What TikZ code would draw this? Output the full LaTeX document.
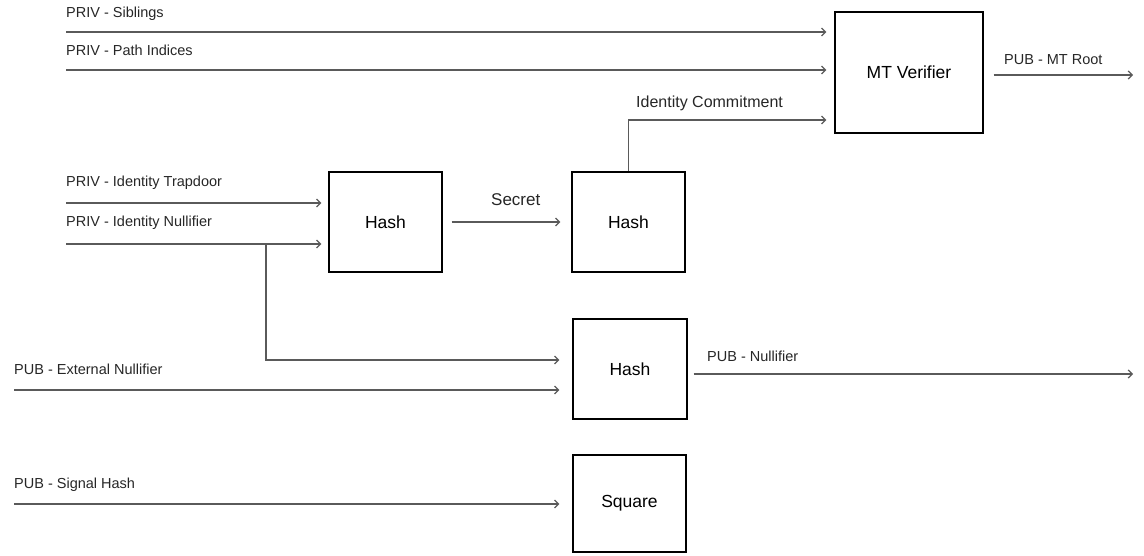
\documentclass[tikz,border=0pt]{standalone}
\usepackage{fontspec}
\setmainfont{Liberation Sans}
\usetikzlibrary{arrows.meta}
\definecolor{wire}{HTML}{5A5A5A}
\tikzset{
  block/.style={draw=black, line width=1.2pt, fill=white, inner sep=0pt,
    font=\fontsize{17.5}{20}\selectfont},
  wirelabel/.style={anchor=base west, inner sep=0pt, text=black!85,
    font=\fontsize{14.5}{17}\selectfont},
  biglabel/.style={wirelabel, font=\fontsize{16}{19}\selectfont},
  signal/.style={draw=wire, line width=1.4pt,
    -{Straight Barb[length=4pt,width=8pt,line width=1.2pt]}},
}
\begin{document}
\begin{tikzpicture}[x=1pt,y=-1pt]
\useasboundingbox (0,0) rectangle (1144,556);

% processing blocks
\node[block, minimum width=148pt, minimum height=121pt] (mt) at (909,72.5) {MT Verifier};
\node[block, minimum width=113pt, minimum height=100pt] (h1) at (385.5,222) {Hash};
\node[block, minimum width=113pt, minimum height=100pt] (h2) at (628.5,222) {Hash};
\node[block, minimum width=114pt, minimum height=100pt] (h3) at (630,369) {Hash};
\node[block, minimum width=113pt, minimum height=97pt] (sq) at (629.5,503.5) {Square};

% free ends of the input and output wires
\coordinate (sib) at (66,32);
\coordinate (path) at (66,70);
\coordinate (trap) at (66,203);
\coordinate (idn) at (66,244);
\coordinate (ext) at (14,390);
\coordinate (sig) at (14,504);
\coordinate (split) at (266,244);
\coordinate (bend) at (266,360);
\coordinate (commit) at (628.5,120);
\coordinate (root) at (1133,75);
\coordinate (nullout) at (1133,374);

% wire labels
\node[wirelabel] (lsib) at (66,17.5) {PRIV - Siblings};
\node[wirelabel] (lpath) at (66,55.5) {PRIV - Path Indices};
\node[wirelabel] (lroot) at (1004,65) {PUB - MT Root};
\node[biglabel] (lcommit) at (636,108) {Identity Commitment};
\node[wirelabel] (ltrap) at (66,186.5) {PRIV - Identity Trapdoor};
\node[wirelabel] (lidn) at (66,227) {PRIV - Identity Nullifier};
\node[biglabel, font=\fontsize{17}{20}\selectfont] (lsec) at (491,205.5) {Secret};
\node[wirelabel] (lext) at (14,374.5) {PUB - External Nullifier};
\node[wirelabel] (lnull) at (707,361) {PUB - Nullifier};
\node[wirelabel] (lsig) at (14,488.5) {PUB - Signal Hash};

% Merkle tree inputs
\draw[signal, shorten >=8pt] (sib) -- (sib -| mt.west);
\draw[signal, shorten >=8pt] (path) -- (path -| mt.west);
\draw[signal, shorten >=8pt] (h2.north) -- (commit) -- (commit -| mt.west);
\draw[signal, shorten <=10pt] (mt.east |- root) -- (root);

% identity hashing
\draw[signal, shorten >=7pt] (trap) -- (trap -| h1.west);
\draw[signal, shorten >=7pt] (idn) -- (idn -| h1.west);
\draw[signal, shorten <=9pt, shorten >=11pt] (h1.east) -- (h2.west);

% nullifier hash
\draw[signal, shorten >=13pt] (split) -- (bend) -- (bend -| h3.west);
\draw[signal, shorten >=13pt] (ext) -- (ext -| h3.west);
\draw[signal, shorten <=6pt] (h3.east |- nullout) -- (nullout);

% signal hash
\draw[signal, shorten >=13pt] (sig) -- (sig -| sq.west);
\end{tikzpicture}
\end{document}
